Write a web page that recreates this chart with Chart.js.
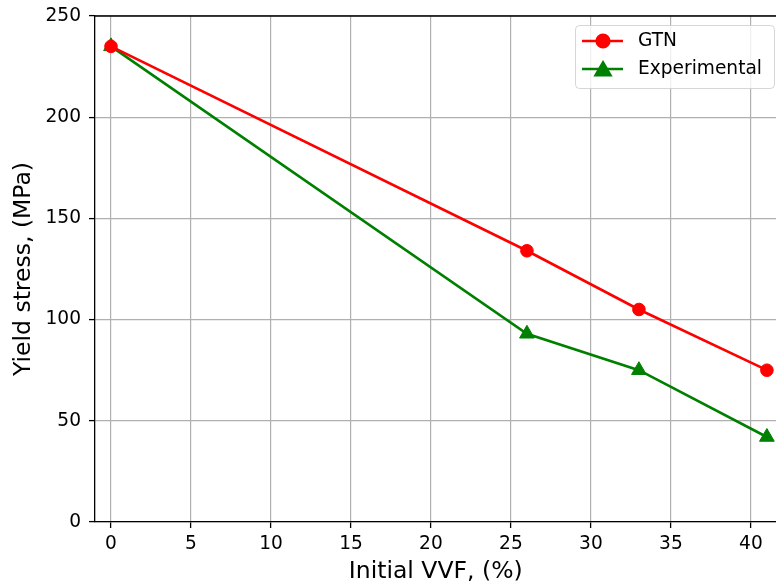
<!DOCTYPE html>
<html>
<head>
<meta charset="utf-8">
<script src="https://cdn.jsdelivr.net/npm/chart.js@4"></script>
<style>
  html, body { margin: 0; padding: 0; background: #fff; }
  /* the reference axes run past the right edge of the figure, so the canvas is a bit wider than the view */
  #wrap { width: 776px; height: 584px; overflow: hidden; }
</style>
</head>
<body>
<div id="wrap"><canvas id="vvf" width="786" height="584"></canvas></div>
<script>
// values
const vvf = [0, 26, 33, 41];
const gtn = [235, 134, 105, 75];
const experimental = [235, 93, 75, 42];
const xTicks = [0, 5, 10, 15, 20, 25, 30, 35, 40];
const yTicks = [0, 50, 100, 150, 200, 250];

const FONT = "'DejaVu Sans', sans-serif";
const TICK_SIZE = 18.6;
const TITLE_SIZE = 23.5;

const toPoints = (ys) => vvf.map((x, i) => ({ x, y: ys[i] }));

/* ---------- top spine (matplotlib style box) ---------- */
const topSpine = {
  id: "topSpine",
  afterDatasetsDraw(chart) {
    const { ctx, chartArea } = chart;
    ctx.save();
    ctx.strokeStyle = "#000";
    ctx.lineWidth = 1.3;
    ctx.beginPath();
    ctx.moveTo(chartArea.left, chartArea.top);
    ctx.lineTo(chart.width, chartArea.top);
    ctx.stroke();
    ctx.restore();
  }
};

/* ---------- legend inside the axes, line + marker samples ---------- */
const boxLegend = {
  id: "boxLegend",
  afterDraw(chart) {
    const { ctx } = chart;
    const x0 = 575, y0 = 25, w = 199, h = 63, r = 4;
    ctx.save();
    ctx.beginPath();
    ctx.roundRect(x0 + 0.5, y0 + 0.5, w, h, r);
    ctx.fillStyle = "rgba(255,255,255,0.8)";
    ctx.fill();
    ctx.strokeStyle = "rgba(204,204,204,0.8)";
    ctx.lineWidth = 1;
    ctx.stroke();

    chart.data.datasets.forEach((ds, i) => {
      const cy = 41 + i * 28;
      ctx.strokeStyle = ds.borderColor;
      ctx.lineWidth = ds.borderWidth;
      ctx.beginPath();
      ctx.moveTo(582, cy);
      ctx.lineTo(623, cy);
      ctx.stroke();
      ctx.fillStyle = ds.pointBackgroundColor;
      ctx.strokeStyle = ds.borderColor;
      Chart.helpers.drawPoint(ctx, {
        pointStyle: ds.pointStyle, radius: ds.pointRadius, rotation: 0, borderWidth: 1
      }, 603, ds.pointStyle === "triangle" ? cy + 2 : cy);
      ctx.fillStyle = "#000";
      ctx.font = TICK_SIZE + "px " + FONT;
      ctx.textBaseline = "middle";
      ctx.textAlign = "left";
      ctx.fillText(ds.label, 638, cy);
    });
    ctx.restore();
  }
};

new Chart(document.getElementById("vvf"), {
  type: "line",
  data: {
    datasets: [
      {
        label: "GTN",
        data: toPoints(gtn),
        borderColor: "#ff0000",
        backgroundColor: "#ff0000",
        pointBackgroundColor: "#ff0000",
        borderWidth: 2.6,
        pointStyle: "circle",
        pointRadius: 6.3,
        pointBorderWidth: 1
      },
      {
        label: "Experimental",
        data: toPoints(experimental),
        borderColor: "#008000",
        backgroundColor: "#008000",
        pointBackgroundColor: "#008000",
        borderWidth: 2.6,
        pointStyle: "triangle",
        pointRadius: 8.5,
        pointBorderWidth: 1
      }
    ]
  },
  options: {
    responsive: false,
    animation: false,
    layout: { padding: { top: 16, left: 0, right: 0, bottom: 0 } },
    plugins: { legend: { display: false }, tooltip: { enabled: false } },
    scales: {
      x: {
        type: "linear",
        min: -1,
        max: 41.6,
        afterFit: (s) => { s.height = 62; s.paddingLeft = 0; s.paddingRight = 0; },
        afterBuildTicks: (s) => { s.ticks = xTicks.map(v => ({ value: v })); },
        ticks: { color: "#000", font: { family: FONT, size: TICK_SIZE }, padding: 5, maxRotation: 0 },
        grid: { color: "#b0b0b0", lineWidth: 1.2, tickColor: "#000", tickWidth: 1.3, tickLength: 6 },
        border: { color: "#000", width: 1.3 },
        title: {
          display: true,
          text: "Initial VVF, (%)",
          color: "#000",
          font: { family: FONT, size: TITLE_SIZE },
          padding: { top: 0, bottom: -2 }
        }
      },
      y: {
        min: 0,
        max: 250,
        afterFit: (s) => { s.width = 95; s.paddingTop = 0; s.paddingBottom = 0; },
        afterBuildTicks: (s) => { s.ticks = yTicks.map(v => ({ value: v })); },
        ticks: { color: "#000", font: { family: FONT, size: TICK_SIZE }, padding: 8 },
        grid: { color: "#b0b0b0", lineWidth: 1.2, tickColor: "#000", tickWidth: 1.3, tickLength: 6 },
        border: { color: "#000", width: 1.3 },
        title: {
          display: true,
          text: "Yield stress, (MPa)",
          color: "#000",
          font: { family: FONT, size: TITLE_SIZE },
          padding: { top: 10, bottom: 0 }
        }
      }
    }
  },
  plugins: [topSpine, boxLegend]
});
</script>
</body>
</html>
